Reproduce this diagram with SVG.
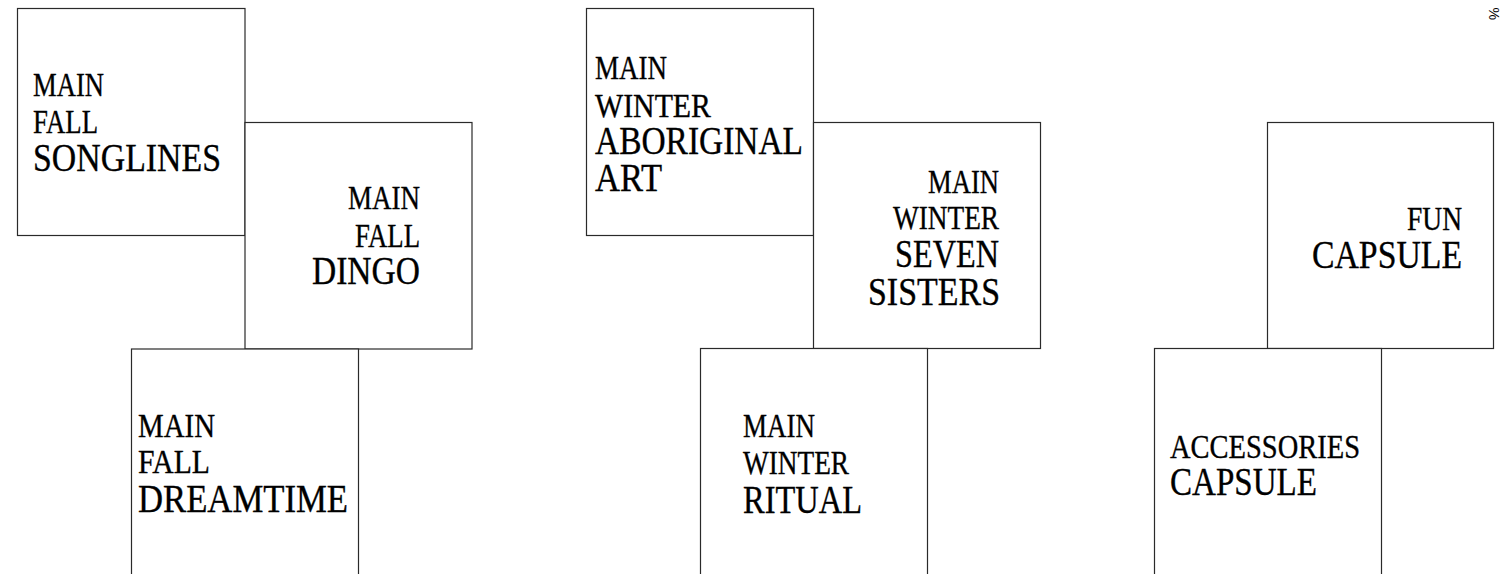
<svg xmlns="http://www.w3.org/2000/svg" width="1503" height="574" viewBox="0 0 1503 574">
<style>
.box{fill:#fff;stroke:#2a2a2a;stroke-width:1.2}
text{font-family:'Liberation Serif',serif;fill:#000;stroke:#000;stroke-width:0.35}
.s{font-size:33px}
.b{font-size:39px}
.r{text-anchor:end}
</style>
<rect width="1503" height="574" fill="#fff"/>
<g id="node-songlines">
<rect class="box" x="17.5" y="8.5" width="227.5" height="227"/>
<text class="s" x="33" y="96" textLength="71" lengthAdjust="spacingAndGlyphs">MAIN</text>
<text class="s" x="33" y="133" textLength="65" lengthAdjust="spacingAndGlyphs">FALL</text>
<text class="b" x="33" y="171" textLength="188" lengthAdjust="spacingAndGlyphs">SONGLINES</text>
</g>
<g id="node-dingo">
<rect class="box" x="245" y="122.5" width="227" height="226.5"/>
<text class="s r" x="420" y="209" textLength="72" lengthAdjust="spacingAndGlyphs">MAIN</text>
<text class="s r" x="420" y="247" textLength="65" lengthAdjust="spacingAndGlyphs">FALL</text>
<text class="b r" x="420" y="284" textLength="108" lengthAdjust="spacingAndGlyphs">DINGO</text>
</g>
<g id="node-dreamtime">
<rect class="box" x="131.5" y="349" width="227" height="240"/>
<text class="s" x="138" y="437" textLength="77" lengthAdjust="spacingAndGlyphs">MAIN</text>
<text class="s" x="138" y="473" textLength="72" lengthAdjust="spacingAndGlyphs">FALL</text>
<text class="b" x="138" y="512" textLength="210" lengthAdjust="spacingAndGlyphs">DREAMTIME</text>
</g>
<g id="node-aboriginal-art">
<rect class="box" x="586.5" y="8.5" width="227" height="227"/>
<text class="s" x="595" y="79" textLength="72" lengthAdjust="spacingAndGlyphs">MAIN</text>
<text class="s" x="595" y="117" textLength="116" lengthAdjust="spacingAndGlyphs">WINTER</text>
<text class="b" x="595" y="154" textLength="208" lengthAdjust="spacingAndGlyphs">ABORIGINAL</text>
<text class="b" x="595" y="191" textLength="67" lengthAdjust="spacingAndGlyphs">ART</text>
</g>
<g id="node-seven-sisters">
<rect class="box" x="813.5" y="122.5" width="227" height="226"/>
<text class="s r" x="999" y="193" textLength="71" lengthAdjust="spacingAndGlyphs">MAIN</text>
<text class="s r" x="999" y="229" textLength="106" lengthAdjust="spacingAndGlyphs">WINTER</text>
<text class="b r" x="999" y="267" textLength="104" lengthAdjust="spacingAndGlyphs">SEVEN</text>
<text class="b r" x="1000" y="305" textLength="132" lengthAdjust="spacingAndGlyphs">SISTERS</text>
</g>
<g id="node-ritual">
<rect class="box" x="700.5" y="348.5" width="227" height="240"/>
<text class="s" x="743" y="437" textLength="72" lengthAdjust="spacingAndGlyphs">MAIN</text>
<text class="s" x="743" y="474" textLength="106" lengthAdjust="spacingAndGlyphs">WINTER</text>
<text class="b" x="743" y="513" textLength="119" lengthAdjust="spacingAndGlyphs">RITUAL</text>
</g>
<g id="node-fun-capsule">
<rect class="box" x="1267.5" y="122.5" width="226" height="226"/>
<text class="s r" x="1462" y="230" textLength="55" lengthAdjust="spacingAndGlyphs">FUN</text>
<text class="b r" x="1462" y="268" textLength="150" lengthAdjust="spacingAndGlyphs">CAPSULE</text>
</g>
<g id="node-accessories-capsule">
<rect class="box" x="1154.5" y="348.5" width="227" height="240"/>
<text class="s" x="1170" y="458" textLength="190" lengthAdjust="spacingAndGlyphs">ACCESSORIES</text>
<text class="b" x="1170" y="495" textLength="147" lengthAdjust="spacingAndGlyphs">CAPSULE</text>
</g>
<g id="connectors"></g>
<text style="font-family:'Liberation Sans',sans-serif;font-size:14px;stroke:none" transform="translate(1489,20) rotate(90)" text-anchor="end">%</text>
</svg>
